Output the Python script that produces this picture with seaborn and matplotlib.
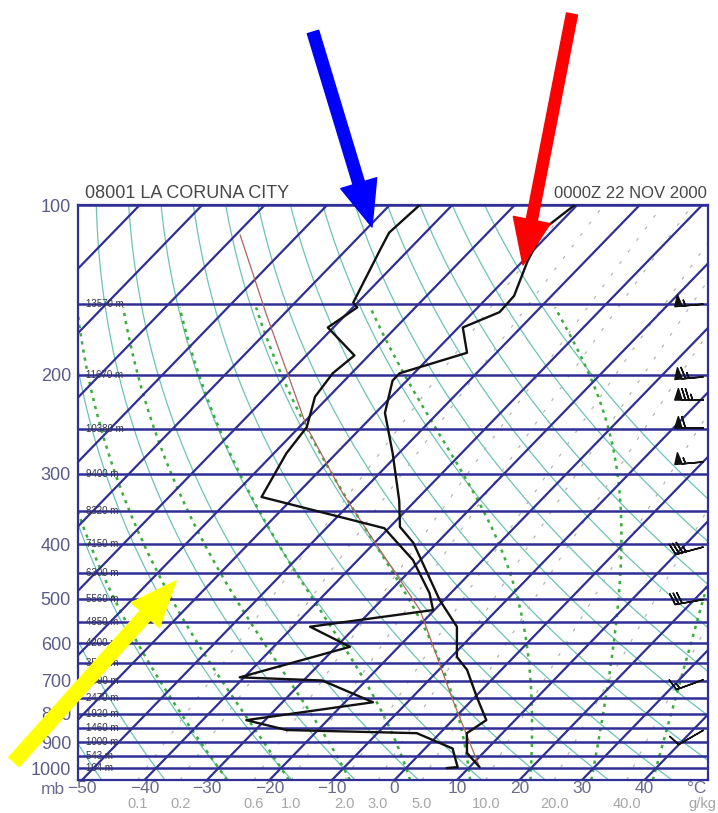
import numpy as np
import matplotlib
matplotlib.use('Agg')
import matplotlib.pyplot as plt
from matplotlib.ticker import NullLocator
import seaborn as sns

# ---- sounding (hPa, degC) ----
temp_p = [100, 110, 126, 145, 155, 165, 183, 199, 205, 234, 276, 335, 373, 398,
          503, 561, 635, 669, 748, 822, 867, 940, 996]
temp_t = [-60.4, -61.6, -59.2, -56.0, -55.8, -59.3, -54.7, -62.3, -62.3, -58.5, -51.0,
          -42.6, -38.4, -33.8, -20.7, -13.8, -9.1, -5.5, 0.3, 5.4, 4.3, 7.4, 11.6]

dew_p = [100, 112, 120, 149, 152, 165, 185, 199, 219, 248, 276, 330, 375, 427, 489,
         524, 561, 609, 690, 699, 764, 822, 856, 867, 923, 996, 1000]
dew_t = [-85.2, -85.8, -84.6, -80.7, -79.3, -80.9, -72.3, -73.0, -72.2, -68.8, -68.0,
         -65.2, -40.7, -31.2, -23.4, -20.2, -37.3, -27.8, -40.7, -27.0, -15.5, -33.0,
         -25.0, -3.7, 4.4, 8.1, 6.5]

parcel_p = [113, 156, 248, 325, 378, 524, 757, 996]
parcel_t = [-109.3, -92.9, -68.8, -52.8, -43.2, -22.3, -3.1, 11.6]

# ---- diagram furniture ----
press_lines = list(range(100, 1051, 50))
press_ticks = [100, 200, 300, 400, 500, 600, 700, 800, 900, 1000]
isotherms = list(range(-150, 51, 10))
temp_ticks = [-50, -40, -30, -20, -10, 0, 10, 20, 30, 40]
theta_c = list(range(-50, 111, 10))       # dry adiabats (potential temp, degC)
theta_w = list(range(-30, 41, 10))        # moist adiabats (wet-bulb pot. temp, degC)
mix_ratio = [0.1, 0.2, 0.6, 1.0, 2.0, 3.0, 5.0, 10.0, 20.0, 40.0]
mix_labels = ['0.1', '0.2', '0.6', '1.0', '2.0', '3.0', '5.0', '10.0', '20.0', '40.0']

height_p = [150, 200, 250, 300, 350, 400, 450, 500, 550, 600, 650, 700, 750, 800,
            850, 900, 950, 1000]
height_m = ['13570 m', '11670 m', '10380 m', '9400 m', '8320 m', '7150 m', '6300 m',
            '5560 m', '4850 m', '4200 m', '3560 m', '2990 m', '2470 m', '1920 m',
            '1460 m', '1000 m', '543 m', '104 m']

wind_p = [150, 202, 222, 249, 286, 405, 502, 697, 857]
wind_kt = [55, 65, 75, 60, 55, 35, 30, 15, 10]
wind_dir = [265, 265, 270, 270, 265, 255, 260, 250, 240]

SKEW = 37.95
P_BOT, P_TOP = 1050.0, 100.0
NAVY = '#2f2f95'


def skew_x(t, p):
    return np.asarray(t, float) + SKEW * np.log(P_BOT / np.asarray(p, float))


def sat_vp(tc):
    return 6.112 * np.exp(17.67 * tc / (tc + 243.5))


def dewpoint_of(w, p):
    e = w * np.asarray(p, float) / (622.0 + w)
    le = np.log(e / 6.112)
    return 243.5 * le / (17.67 - le)


def moist_path(t0, p_end, n=300):
    rd, cp, lv, eps = 287.04, 1005.7, 2.501e6, 0.622

    def rate(tk, p):
        es = sat_vp(tk - 273.15)
        rs = eps * es / (p - es)
        return (rd * tk + lv * rs) / (p * (cp + lv * lv * rs * eps / (rd * tk * tk)))

    ps = np.linspace(1000.0, p_end, n)
    tk = t0 + 273.15
    out = [tk]
    for i in range(n - 1):
        dp = ps[i + 1] - ps[i]
        k1 = rate(tk, ps[i])
        k2 = rate(tk + k1 * dp, ps[i + 1])
        tk = tk + 0.5 * (k1 + k2) * dp
        out.append(tk)
    return ps, np.array(out) - 273.15


sns.set_style('white')
plt.rcParams['font.family'] = ['Liberation Sans', 'DejaVu Sans']

fig = plt.figure(figsize=(7.18, 8.13), dpi=100)
ax = fig.add_axes([78 / 718, 33 / 813, 630 / 718, 575 / 813])
ax.set_yscale('log')

pp = np.geomspace(P_BOT, P_TOP, 200)

# dry adiabats
for th in theta_c:
    t = (th + 273.15) * (pp / 1000.0) ** 0.286 - 273.15
    ax.plot(skew_x(t, pp), pp, color='#6cc3b5', lw=0.9, zorder=1)

# moist adiabats
for tw in theta_w:
    p_up, t_up = moist_path(tw, 152.0)
    p_dn, t_dn = moist_path(tw, P_BOT, n=30)
    p_all = np.concatenate([p_dn[::-1], p_up[1:]])
    t_all = np.concatenate([t_dn[::-1], t_up[1:]])
    ax.plot(skew_x(t_all, p_all), p_all, color='#3aad3a', lw=1.8,
            ls=(0, (1.3, 2.0)), zorder=2)

# mixing ratio lines
for w in mix_ratio:
    ax.plot(skew_x(dewpoint_of(w, pp), pp), pp, color='#b5b5b5', lw=0.9,
            ls=(0, (2.5, 9)), zorder=2)

# isobars and isotherms
for p in press_lines:
    ax.axhline(p, color=NAVY, lw=1.8, zorder=3)
for t in isotherms:
    ax.plot(skew_x([t, t], [P_BOT, P_TOP]), [P_BOT, P_TOP], color=NAVY, lw=1.6, zorder=3)

# parcel path, temperature and dewpoint
sns.lineplot(x=skew_x(parcel_t, parcel_p), y=parcel_p, sort=False, estimator=None,
             color='#b3645c', lw=0.9, ax=ax, zorder=4)
sns.lineplot(x=skew_x(temp_t, temp_p), y=temp_p, sort=False, estimator=None,
             color='#111111', lw=1.7, ax=ax, zorder=5)
sns.lineplot(x=skew_x(dew_t, dew_p), y=dew_p, sort=False, estimator=None,
             color='#111111', lw=1.7, ax=ax, zorder=5)

# height labels on the isobars
for p, h in zip(height_p, height_m):
    ax.text(0.012, p, h, transform=ax.get_yaxis_transform(), fontsize=7,
            color='#33334d', va='center', ha='left', zorder=6)

# wind barbs
wd = np.deg2rad(wind_dir)
u = -np.array(wind_kt) * np.sin(wd)
v = -np.array(wind_kt) * np.cos(wd)
ax.barbs(np.full(len(wind_p), 49.4), wind_p, u, v, length=6.4, color='#111111',
         lw=1.1, clip_on=False, zorder=7)

ax.set_xlim(-50.64, 50.16)
ax.set_ylim(P_BOT, P_TOP)
ax.yaxis.set_minor_locator(NullLocator())
ax.set_yticks(press_ticks)
ax.set_yticklabels([str(p) for p in press_ticks], fontsize=13, color='#5b5b88')
ax.set_xticks(temp_ticks)
ax.set_xticklabels([str(t).replace('-', '\u2212') for t in temp_ticks], fontsize=12.5,
                   color='#6b6b8e')
ax.tick_params(axis='both', length=0)
ax.tick_params(axis='y', pad=5)
ax.tick_params(axis='x', pad=1.0)
ax.set_xlabel('')
ax.set_ylabel('')
for s in ax.spines.values():
    s.set_color(NAVY)
    s.set_linewidth(1.6)

# mixing ratio labels under the temperature labels
for w, lab in zip(mix_ratio, mix_labels):
    ax.text(dewpoint_of(w, P_BOT), -0.0425, lab, transform=ax.get_xaxis_transform(),
            fontsize=10.5, color='#a6a6a6', ha='center', va='center', clip_on=False)

fig.text(41 / 718, 1 - 789 / 813, 'mb', fontsize=12.5, color='#6b6b8e', va='center')
fig.text(697 / 718, 1 - 788 / 813, '\u00b0C', fontsize=12.5, color='#6b6b8e',
         ha='center', va='center')
fig.text(688 / 718, 1 - 804 / 813, 'g/kg', fontsize=10.5, color='#a6a6a6', va='center')

fig.text(85 / 718, 1 - 193 / 813, '08001 LA CORUNA CITY', fontsize=13,
         color='#474747', va='center')
fig.text(707 / 718, 1 - 193 / 813, '0000Z 22 NOV 2000', fontsize=12,
         color='#474747', va='center', ha='right')

# highlight arrows
arrows = [((313, 781), (372, 586), '#0000ff', 8.5),
          ((572, 799), (523, 548), '#ff0000', 8.0),
          ((14, 51), (176, 232), '#ffff00', 10.0)]
for tail, tip, col, wid in arrows:
    ax.annotate('', xy=tip, xytext=tail, xycoords='figure pixels',
                textcoords='figure pixels', annotation_clip=False,
                arrowprops=dict(facecolor=col, edgecolor=col, width=wid,
                                headwidth=27, headlength=33, shrink=0), zorder=10)

fig.savefig('out.png', dpi=100)
